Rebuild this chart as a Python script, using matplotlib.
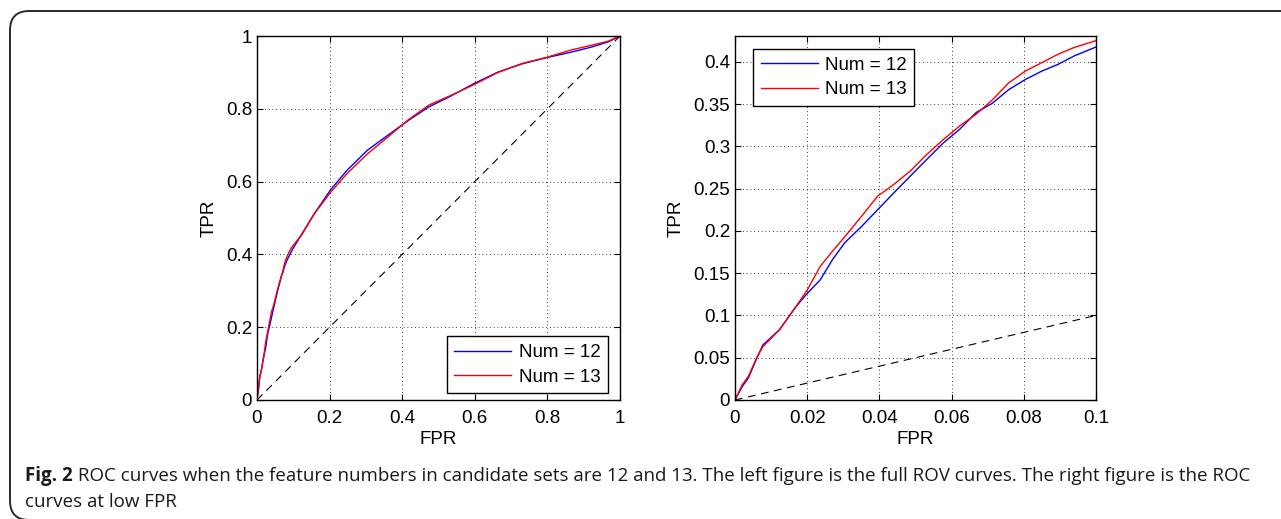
import numpy as np
import matplotlib
matplotlib.use("Agg")
import matplotlib.pyplot as plt
from matplotlib.patches import FancyBboxPatch

plt.rcParams['font.family'] = ['Liberation Sans', 'DejaVu Sans']

# --- ROC data ---
fpr_12 = [0.0, 0.002, 0.0037, 0.006, 0.0077, 0.0123, 0.0168, 0.02, 0.0236, 0.027,
          0.0304, 0.035, 0.0395, 0.044, 0.0486, 0.053, 0.0577, 0.0622, 0.0668,
          0.0713, 0.0758, 0.0804, 0.085, 0.0895, 0.094, 0.1, 0.124, 0.158, 0.203,
          0.248, 0.304, 0.36, 0.417, 0.473, 0.53, 0.597, 0.664, 0.732, 0.8, 0.867,
          0.923, 0.968, 1.0]
tpr_12 = [0.0, 0.016, 0.026, 0.049, 0.065, 0.083, 0.11, 0.126, 0.142, 0.166,
          0.186, 0.205, 0.225, 0.245, 0.265, 0.284, 0.304, 0.320, 0.340,
          0.351, 0.367, 0.379, 0.389, 0.397, 0.407, 0.4175, 0.457, 0.512, 0.578,
          0.631, 0.686, 0.727, 0.768, 0.805, 0.833, 0.869, 0.901, 0.924, 0.941, 0.956,
          0.970, 0.984, 1.0]

fpr_13 = [0.0, 0.002, 0.0037, 0.006, 0.0077, 0.0123, 0.0168, 0.02, 0.0236, 0.027,
          0.0304, 0.035, 0.0395, 0.044, 0.0486, 0.053, 0.0577, 0.0622, 0.0668,
          0.0713, 0.0758, 0.0804, 0.085, 0.0895, 0.094, 0.1, 0.124, 0.158, 0.203,
          0.248, 0.304, 0.36, 0.417, 0.473, 0.53, 0.597, 0.664, 0.732, 0.8, 0.867,
          0.923, 0.968, 1.0]
tpr_13 = [0.0, 0.018, 0.028, 0.050, 0.063, 0.083, 0.11, 0.130, 0.158, 0.176,
          0.193, 0.217, 0.241, 0.255, 0.271, 0.290, 0.308, 0.324, 0.338,
          0.355, 0.375, 0.389, 0.399, 0.409, 0.417, 0.425, 0.455, 0.512, 0.571,
          0.622, 0.676, 0.722, 0.770, 0.810, 0.835, 0.866, 0.900, 0.925, 0.942, 0.962,
          0.975, 0.986, 1.0]

labels = ["Num = 12", "Num = 13"]
colors = ["#0000ff", "#ff0000"]

left_xticks = [0, 0.2, 0.4, 0.6, 0.8, 1]
left_xticklabels = ["0", "0.2", "0.4", "0.6", "0.8", "1"]
right_xticks = [0, 0.02, 0.04, 0.06, 0.08, 0.1]
right_xticklabels = ["0", "0.02", "0.04", "0.06", "0.08", "0.1"]
right_yticks = [0, 0.05, 0.1, 0.15, 0.2, 0.25, 0.3, 0.35, 0.4]
right_yticklabels = ["0", "0.05", "0.1", "0.15", "0.2", "0.25", "0.3", "0.35", "0.4"]

caption_bold = "Fig. 2"
caption_1 = (" ROC curves when the feature numbers in candidate sets are 12 and 13. "
             "The left figure is the full ROV curves. The right figure is the ROC")
caption_2 = "curves at low FPR"

W, H = 1281, 519
FS = 13.5
fig = plt.figure(figsize=(W / 100, H / 100), dpi=100)
fig.patch.set_facecolor('white')

# outer rounded frame (right side runs off the page)
frame = FancyBboxPatch((10 / W, -1 / H), 1.2, 1 - 10 / H,
                       boxstyle="round,pad=0,rounding_size=0.015",
                       transform=fig.transFigure, fill=False,
                       edgecolor='#2a2a2a', linewidth=1.4, mutation_aspect=W / H)
fig.add_artist(frame)

ax1 = fig.add_axes([257 / W, 1 - 400 / H, 363 / W, 364 / H])
ax2 = fig.add_axes([735 / W, 1 - 400 / H, 361 / W, 364 / H])


def style(ax):
    ax.grid(True, linestyle=(0, (1, 3.5)), color='black', linewidth=0.6)
    ax.tick_params(direction='in', top=True, right=True, labelsize=FS,
                   length=4, width=0.8)
    ax.tick_params(axis='x', pad=7)
    ax.tick_params(axis='y', pad=3.5)
    for s in ax.spines.values():
        s.set_linewidth(1.0)
        s.set_color('black')
    ax.set_xlabel("FPR", fontsize=FS, labelpad=3)
    ax.set_ylabel("TPR", fontsize=FS, labelpad=6)


for ax in (ax1, ax2):
    ax.plot(fpr_12, tpr_12, color=colors[0], lw=1.0, label=labels[0])
    ax.plot(fpr_13, tpr_13, color=colors[1], lw=1.0, label=labels[1])
    ax.plot([0, 1], [0, 1], color='black', lw=0.8, linestyle=(0, (7, 5)))
    style(ax)

ax1.set_xlim(0, 1)
ax1.set_ylim(0, 1)
ax1.set_xticks(left_xticks, left_xticklabels)
ax1.set_yticks(left_xticks, left_xticklabels)

ax2.set_xlim(0, 0.1)
ax2.set_ylim(0, 0.4305)
ax2.set_xticks(right_xticks, right_xticklabels)
ax2.set_yticks(right_yticks, right_yticklabels)

leg_kw = dict(fontsize=FS, fancybox=False, framealpha=1, edgecolor='black',
              handlelength=3.05, handletextpad=0.4, borderpad=0.4,
              labelspacing=0.39, borderaxespad=0)
l1 = ax1.legend(loc='lower right', bbox_to_anchor=(1 - 12 / 363, 7 / 364), **leg_kw)
l2 = ax2.legend(loc='upper left', bbox_to_anchor=(18 / 361, 1 - 13 / 364), **leg_kw)
for l in (l1, l2):
    l.get_frame().set_linewidth(1.0)

# caption
cap_font = ['Open Sans', 'DejaVu Sans']
cap_fs = 13.5
t0 = fig.text(25 / W, 1 - 481 / H, caption_bold, fontsize=cap_fs, fontweight='bold',
              family=cap_font, va='baseline', ha='left', color='#1a1a1a')
fig.canvas.draw()
bb = t0.get_window_extent()
fig.text(bb.x1 / W, 1 - 481 / H, caption_1, fontsize=cap_fs, family=cap_font,
         va='baseline', ha='left', color='#1a1a1a')
fig.text(25 / W, 1 - 507 / H, caption_2, fontsize=cap_fs, family=cap_font,
         va='baseline', ha='left', color='#1a1a1a')

fig.savefig("out.png", dpi=100)
